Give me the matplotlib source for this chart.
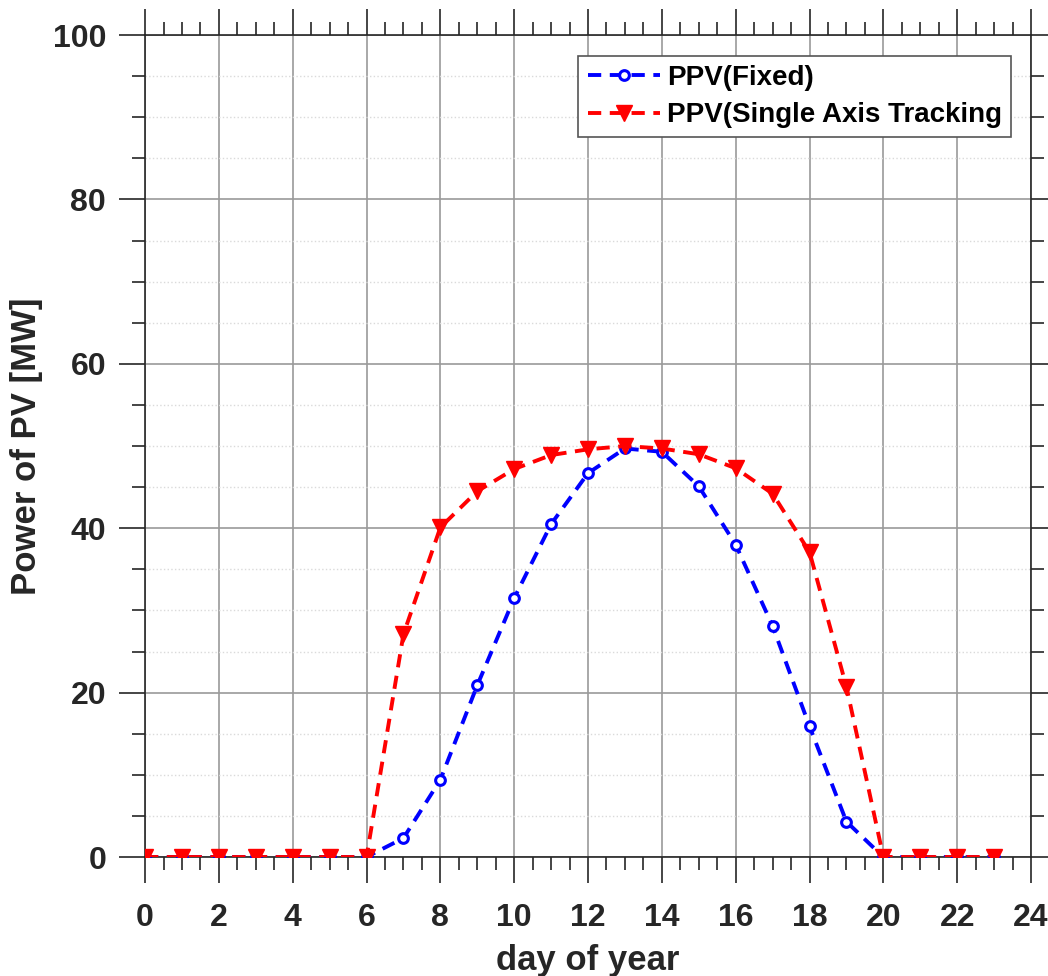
import matplotlib.pyplot as plt
from matplotlib.ticker import MultipleLocator

hours = list(range(24))
ppv_fixed = [0, 0, 0, 0, 0, 0, 0, 2.3, 9.4, 20.9, 31.5, 40.5, 46.7, 49.7,
             49.3, 45.1, 38.0, 28.1, 15.9, 4.3, 0, 0, 0, 0]
ppv_tracking = [0, 0, 0, 0, 0, 0, 0, 27.1, 40.1, 44.5, 47.2, 48.9, 49.6, 50.0,
                49.7, 49.0, 47.3, 44.2, 37.1, 20.7, 0, 0, 0, 0]
labels = ['PPV(Fixed)', 'PPV(Single Axis Tracking']

plt.rcParams['font.family'] = ['Liberation Sans', 'DejaVu Sans']
plt.rcParams['font.weight'] = 'bold'

fig = plt.figure(figsize=(10.48, 9.76), dpi=100)
ax = fig.add_axes([0.1384, 0.1219, 0.8454, 0.8422])

dash_style = (3.4, 2.2)
ax.plot(hours, ppv_fixed, color='blue', lw=2.8, ls='--', dashes=dash_style,
        marker='o', ms=7, mfc='white', mec='blue', mew=2.2, label=labels[0], zorder=3)
ax.plot(hours, ppv_tracking, color='red', lw=2.8, ls='--', dashes=dash_style,
        marker='v', ms=11, mfc='red', mec='red', label=labels[1], zorder=4)

ax.set_xlim(0, 24)
ax.set_ylim(0, 100)
ax.xaxis.set_major_locator(MultipleLocator(2))
ax.xaxis.set_minor_locator(MultipleLocator(0.5))
ax.yaxis.set_major_locator(MultipleLocator(20))
ax.yaxis.set_minor_locator(MultipleLocator(5))

# major grid on both axes, dotted minor grid only on y
ax.grid(which='major', color='#9a9a9a', lw=1.2)
ax.yaxis.grid(which='minor', color='#dadada', lw=1, ls=':')
ax.set_axisbelow(True)

ax.tick_params(which='major', direction='out', length=19, width=1.2, color='#262626',
               top=True, right=True, labelsize=23, labelcolor='#262626')
ax.tick_params(which='minor', direction='out', length=9.5, width=1.2, color='#262626',
               top=True, right=True)
ax.tick_params(axis='x', which='major', pad=14)
ax.tick_params(axis='y', which='major', pad=9)
for sp in ax.spines.values():
    sp.set_color('#262626')
    sp.set_linewidth(1.2)

ax.set_xlabel('day of year', fontsize=25, fontweight='bold', color='#262626', labelpad=8)
ax.set_ylabel('Power of PV [MW]', fontsize=25, fontweight='bold', color='#262626', labelpad=7)

leg = ax.legend(loc='upper right', bbox_to_anchor=(0.9774, 0.9745), borderaxespad=0,
                fontsize=20, handlelength=2.6, fancybox=False, framealpha=1,
                edgecolor='#555555', borderpad=0.33, labelspacing=0.4, handletextpad=0.25)
leg.get_frame().set_linewidth(1.2)

fig.savefig('out.png', dpi=100)
